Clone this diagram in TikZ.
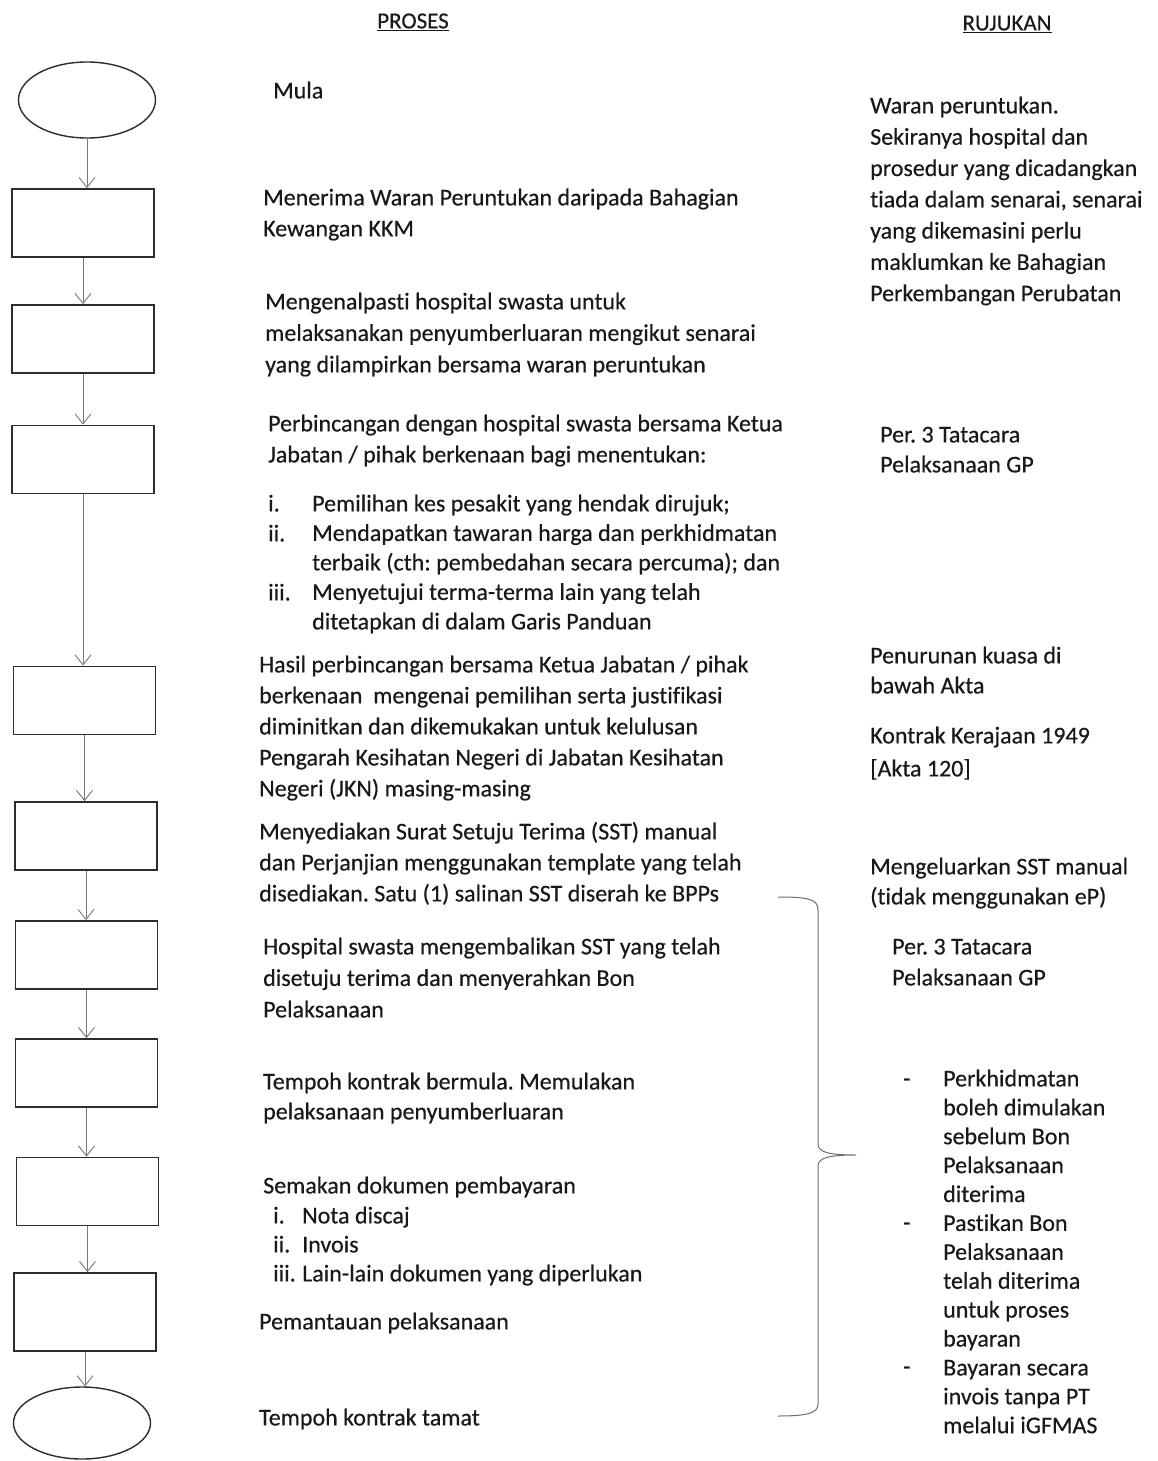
\documentclass[tikz,border=0pt]{standalone}
\usepackage{fontspec}
\setmainfont[FakeBold=0.4,Ligatures=NoCommon]{Carlito}
\usetikzlibrary{shapes.geometric,arrows.meta}
\definecolor{ink}{RGB}{25,25,25}
\definecolor{boxline}{RGB}{45,45,45}
\definecolor{arrowgray}{RGB}{120,120,120}
\definecolor{bracegray}{RGB}{110,110,110}
\begin{document}
\frenchspacing
\begin{tikzpicture}[x=1pt,y=-1pt,
  txt/.style={anchor=mid west, inner sep=0pt, yshift=-6pt, text=ink, font=\fontsize{24}{29}\selectfont},
  hdr/.style={anchor=mid, inner sep=0pt, yshift=-7pt, text=ink, font=\fontsize{23}{29}\selectfont},
  procbox/.style={rectangle, draw=boxline, line width=1.8pt, minimum width=142pt, minimum height=68pt, inner sep=0pt},
  termin/.style={ellipse, draw=boxline, line width=1.4pt, minimum width=137pt, minimum height=76pt, inner sep=0pt},
  conn/.style={draw=arrowgray, line width=0.9pt, -{Straight Barb[length=10pt,width=16pt,line width=0.9pt]}}
]
\useasboundingbox (0,0) rectangle (1157,1461);
\fill[white] (0,0) rectangle (1157,1461);

% headers
\node[hdr] (hproses) at (413,19) {\underline{PROSES}};
\node[hdr] (hrujukan) at (1007,21) {\underline{RUJUKAN}};

% flowchart shapes
\node[termin] (e1) at (87,100) {};
\node[procbox] (b1) at (83,223) {};
\node[procbox] (b2) at (83,339) {};
\node[procbox] (b3) at (83,459.5) {};
\node[procbox] (b4) at (84.5,700.5) {};
\node[procbox] (b5) at (86,836) {};
\node[procbox] (b6) at (86.5,955) {};
\node[procbox] (b7) at (86.5,1073) {};
\node[procbox] (b8) at (87.5,1191.5) {};
\node[procbox, minimum height=78pt] (b9) at (85,1312) {};
\node[termin, minimum height=72pt] (e2) at (82,1423) {};

% connectors
\draw[conn] (e1.south) -- (e1.south |- b1.north);
\draw[conn] (b1.south) -- (b1.south |- b2.north);
\draw[conn] (b2.south) -- (b2.south |- b3.north);
\draw[conn] (b3.south) -- (b3.south |- b4.north);
\draw[conn] (b4.south) -- (b4.south |- b5.north);
\draw[conn] (b5.south) -- (b5.south |- b6.north);
\draw[conn] (b6.south) -- (b6.south |- b7.north);
\draw[conn] (b7.south) -- (b7.south |- b8.north);
\draw[conn] (b8.south) -- (b8.south |- b9.north);
\draw[conn] (b9.south) -- (b9.south |- e2.north);

% process texts
\node[txt] (mula) at (273,90) {Mula};
\foreach \t [count=\k] in {Menerima Waran Peruntukan daripada Bahagian, Kewangan KKM}
  \node[txt] (pa-\k) at (263,197+31*\k-31) {\t};
\foreach \t [count=\k] in {Mengenalpasti hospital swasta untuk, melaksanakan penyumberluaran mengikut senarai, yang dilampirkan bersama waran peruntukan}
  \node[txt] (pb-\k) at (265,301+31.5*\k-31.5) {\t};
\foreach \t [count=\k] in {Perbincangan dengan hospital swasta bersama Ketua, {Jabatan / pihak berkenaan bagi menentukan:}}
  \node[txt] (pc-\k) at (268,423+31*\k-31) {\t};
\node[txt] (pcl-1) at (268,503) {i.};
\node[txt] (pcl-2) at (268,533) {ii.};
\node[txt] (pcl-3) at (268,592) {iii.};
\foreach \t [count=\k] in {Pemilihan kes pesakit yang hendak dirujuk;, Mendapatkan tawaran harga dan perkhidmatan, terbaik (cth: pembedahan secara percuma); dan, Menyetujui terma-terma lain yang telah, ditetapkan di dalam Garis Panduan}
  \node[txt] (pci-\k) at (312,503+29.5*\k-29.5) {\t};
\foreach \t [count=\k] in {{Hasil perbincangan bersama Ketua Jabatan / pihak}, berkenaan\ \ mengenai pemilihan serta justifikasi, diminitkan dan dikemukakan untuk kelulusan, Pengarah Kesihatan Negeri di Jabatan Kesihatan, Negeri (JKN) masing-masing}
  \node[txt] (pd-\k) at (259,664+31*\k-31) {\t};
\foreach \t [count=\k] in {Menyediakan Surat Setuju Terima (SST) manual, dan Perjanjian menggunakan template yang telah, disediakan. Satu (1) salinan SST diserah ke BPPs}
  \node[txt] (pe-\k) at (259,831+31*\k-31) {\t};
\foreach \t [count=\k] in {Hospital swasta mengembalikan SST yang telah, disetuju terima dan menyerahkan Bon, Pelaksanaan}
  \node[txt] (pf-\k) at (263,946+31.5*\k-31.5) {\t};
\foreach \t [count=\k] in {Tempoh kontrak bermula. Memulakan, pelaksanaan penyumberluaran}
  \node[txt] (pg-\k) at (263,1081+30*\k-30) {\t};
\node[txt] (ph-0) at (263,1185) {Semakan dokumen pembayaran};
\node[txt] (phl-1) at (273,1215) {i.};
\node[txt] (phl-2) at (273,1244) {ii.};
\node[txt] (phl-3) at (273,1273) {iii.};
\foreach \t [count=\k] in {Nota discaj, Invois, Lain-lain dokumen yang diperlukan}
  \node[txt] (ph-\k) at (302,1215+29*\k-29) {\t};
\node[txt] (pi) at (259,1321) {Pemantauan pelaksanaan};
\node[txt] (pj) at (259,1417) {Tempoh kontrak tamat};

% reference texts
\foreach \t [count=\k] in {Waran peruntukan., Sekiranya hospital dan, prosedur yang dicadangkan, {tiada dalam senarai, senarai}, yang dikemasini perlu, maklumkan ke Bahagian, Perkembangan Perubatan}
  \node[txt] (ra-\k) at (870,105+31.3*\k-31.3) {\t};
\foreach \t [count=\k] in {Per. 3 Tatacara, Pelaksanaan GP}
  \node[txt] (rb-\k) at (880,434+30*\k-30) {\t};
\foreach \t [count=\k] in {Penurunan kuasa di, bawah Akta}
  \node[txt] (rc-\k) at (870,655+30*\k-30) {\t};
\foreach \t [count=\k] in {Kontrak Kerajaan 1949, {[Akta 120]}}
  \node[txt] (rd-\k) at (870,735+33*\k-33) {\t};
\foreach \t [count=\k] in {Mengeluarkan SST manual, (tidak menggunakan eP)}
  \node[txt] (re-\k) at (870,866+30*\k-30) {\t};
\foreach \t [count=\k] in {Per. 3 Tatacara, Pelaksanaan GP}
  \node[txt] (rf-\k) at (892,946+31*\k-31) {\t};
\node[txt] (rgd-1) at (903,1078) {-};
\node[txt] (rgd-2) at (903,1222) {-};
\node[txt] (rgd-3) at (903,1366) {-};
\foreach \t [count=\k] in {Perkhidmatan, boleh dimulakan, sebelum Bon, Pelaksanaan, diterima, Pastikan Bon, Pelaksanaan, telah diterima, untuk proses, bayaran, Bayaran secara, invois tanpa PT, melalui iGFMAS}
  \node[txt] (rg-\k) at (943,1078+28.9*\k-28.9) {\t};

% brace
\coordinate (brtop) at (778,897);
\coordinate (brtip) at (856,1155);
\coordinate (brbot) at (778,1416);
\draw[bracegray, line width=1pt]
  (brtop) .. controls (808,897) and (818,899) .. (818,910)
  -- (818,1144) .. controls (818,1152) and (828,1155) .. (brtip)
  .. controls (828,1155) and (818,1158) .. (818,1166)
  -- (818,1404) .. controls (818,1413) and (808,1416) .. (brbot);
\end{tikzpicture}
\end{document}
